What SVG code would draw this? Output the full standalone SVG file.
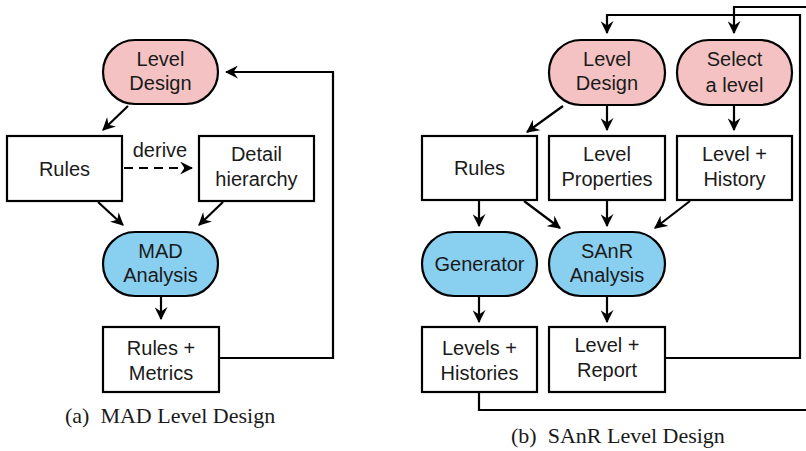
<svg xmlns="http://www.w3.org/2000/svg" width="806" height="451" viewBox="0 0 806 451">
<defs>
<style>
.pink{fill:#f4c2c2;stroke:#000;stroke-width:2.2}
.blue{fill:#89cff0;stroke:#000;stroke-width:2.2}
.box{fill:#fff;stroke:#000;stroke-width:2.2}
.t{font-family:"Liberation Sans",Arial,sans-serif;font-size:20px;fill:#1a1a1a;text-anchor:middle}
.cap{font-family:"Liberation Serif","Times New Roman",serif;font-size:22px;fill:#1a1a1a}
.c{fill:none;stroke:#000;stroke-width:2.2}
.d{stroke-dasharray:9,6}
</style>
<marker id="ah" viewBox="0 0 12 12" refX="11" refY="6" markerWidth="13" markerHeight="13" markerUnits="userSpaceOnUse" orient="auto">
<path d="M0,0 L12,6 L0,12 L4,6 z" fill="#000"/>
</marker>
</defs>
<rect width="806" height="451" fill="#fff"/>

<g id="connectors">
<path class="c" d="M128,106 L103,130" marker-end="url(#ah)"/>
<path class="c d" d="M124,168 L192,168" marker-end="url(#ah)"/>
<path class="c" d="M98,202 L123,225" marker-end="url(#ah)"/>
<path class="c" d="M223,202 L199,225" marker-end="url(#ah)"/>
<path class="c" d="M161,297 L161,319" marker-end="url(#ah)"/>
<path class="c" d="M219,358 L333,358 L333,72 L226,72" marker-end="url(#ah)"/>

<path class="c" d="M563,106 L527,132" marker-end="url(#ah)"/>
<path class="c" d="M607,106 L607,130" marker-end="url(#ah)"/>
<path class="c" d="M734,106 L734,130" marker-end="url(#ah)"/>
<path class="c" d="M479,201 L479,226" marker-end="url(#ah)"/>
<path class="c" d="M524,201 L560,228" marker-end="url(#ah)"/>
<path class="c" d="M607,201 L607,226" marker-end="url(#ah)"/>
<path class="c" d="M690,201 L655,228" marker-end="url(#ah)"/>
<path class="c" d="M479,297 L479,322" marker-end="url(#ah)"/>
<path class="c" d="M607,297 L607,322" marker-end="url(#ah)"/>
<path class="c" d="M665,358 L800,358 L800,15 L607,15 L607,33" marker-end="url(#ah)"/>
<path class="c" d="M479,392 L479,410 L812,410"/>
<path class="c" d="M812,7 L734,7 L734,33" marker-end="url(#ah)"/>
</g>

<g id="a-level-design"><rect class="pink" x="103" y="40" width="115" height="64" rx="32"/><text class="t" x="160.5" y="66">Level</text><text class="t" x="160.5" y="90">Design</text></g>
<g id="a-rules"><rect class="box" x="7" y="136" width="115" height="65"/><text class="t" x="64.5" y="176">Rules</text></g>
<g id="a-derive"><text class="t" x="160" y="157">derive</text></g>
<g id="a-detail"><rect class="box" x="199" y="136" width="115" height="65"/><text class="t" x="256.5" y="161">Detail</text><text class="t" x="256.5" y="186">hierarchy</text></g>
<g id="a-mad"><rect class="blue" x="103" y="232" width="115" height="64" rx="32"/><text class="t" x="160.5" y="258">MAD</text><text class="t" x="160.5" y="282">Analysis</text></g>
<g id="a-rules-metrics"><rect class="box" x="103" y="327" width="116" height="65"/><text class="t" x="161" y="355">Rules +</text><text class="t" x="161" y="380">Metrics</text></g>
<text class="cap" x="65" y="423" xml:space="preserve">(a)  MAD Level Design</text>

<g id="b-level-design"><rect class="pink" x="549" y="40" width="116" height="65" rx="32"/><text class="t" x="607" y="66">Level</text><text class="t" x="607" y="90">Design</text></g>
<g id="b-select"><rect class="pink" x="677" y="40" width="115" height="65" rx="32"/><text class="t" x="734.5" y="66">Select</text><text class="t" x="734.5" y="92">a level</text></g>
<g id="b-rules"><rect class="box" x="422" y="136" width="115" height="64"/><text class="t" x="479.5" y="175">Rules</text></g>
<g id="b-level-props"><rect class="box" x="549" y="136" width="116" height="64"/><text class="t" x="607" y="161">Level</text><text class="t" x="607" y="186">Properties</text></g>
<g id="b-level-history"><rect class="box" x="677" y="136" width="115" height="64"/><text class="t" x="734.5" y="161">Level +</text><text class="t" x="734.5" y="186">History</text></g>
<g id="b-generator"><rect class="blue" x="422" y="232" width="115" height="64" rx="32"/><text class="t" x="479.5" y="271">Generator</text></g>
<g id="b-sanr"><rect class="blue" x="549" y="232" width="116" height="64" rx="32"/><text class="t" x="607" y="258">SAnR</text><text class="t" x="607" y="282">Analysis</text></g>
<g id="b-levels-histories"><rect class="box" x="422" y="327" width="115" height="65"/><text class="t" x="479.5" y="355">Levels +</text><text class="t" x="479.5" y="380">Histories</text></g>
<g id="b-level-report"><rect class="box" x="549" y="327" width="116" height="65"/><text class="t" x="607" y="352">Level +</text><text class="t" x="607" y="377">Report</text></g>
<text class="cap" x="511" y="443" xml:space="preserve">(b)  SAnR Level Design</text>
</svg>
